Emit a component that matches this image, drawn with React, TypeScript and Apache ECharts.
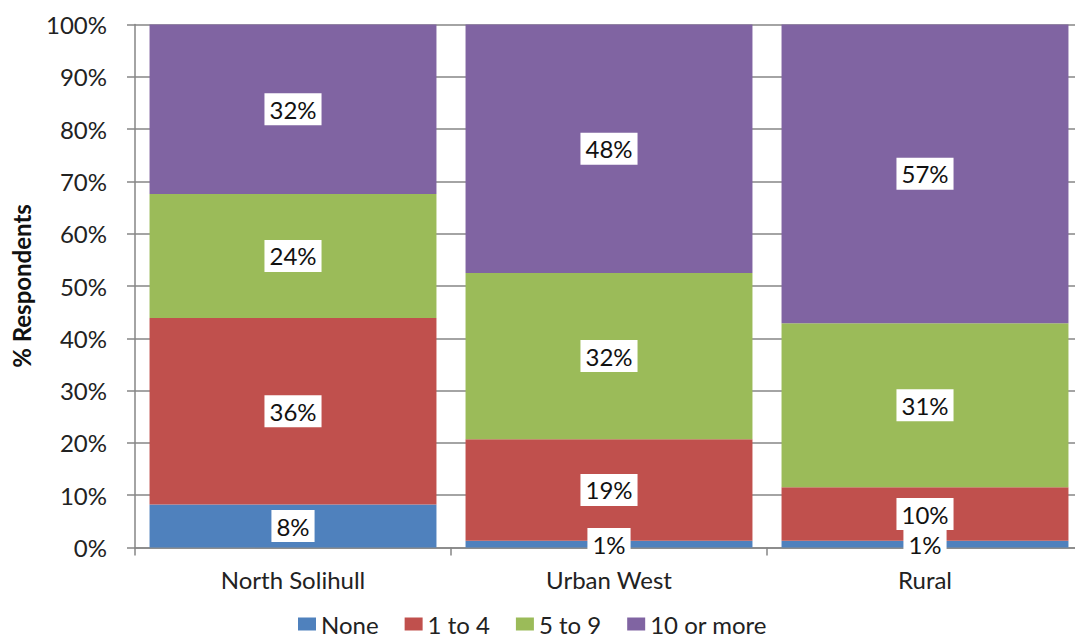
import React, { useEffect, useRef } from "react";
import * as echarts from "echarts";

const categories = ["North Solihull", "Urban West", "Rural"];
const seriesNames = ["None", "1 to 4", "5 to 9", "10 or more"];
const noneValues = [8.2, 1.3, 1.3];
const oneToFourValues = [35.7, 19.4, 10.2];
const fiveToNineValues = [23.7, 31.8, 31.4];
const tenOrMoreValues = [32.4, 47.5, 57.1];
const yTicks = [0, 10, 20, 30, 40, 50, 60, 70, 80, 90, 100];
const colors = ["#4F81BD", "#C0504D", "#9BBB59", "#8064A2"];

const FONT = "Lato, 'Open Sans', sans-serif";

export default function App() {
  const ref = useRef<HTMLDivElement>(null);
  useEffect(() => {
    if (!ref.current) return;
    const chart = echarts.init(ref.current, undefined, { renderer: "svg" });
    const dataSets = [noneValues, oneToFourValues, fiveToNineValues, tenOrMoreValues];
    chart.setOption({
      animation: false,
      textStyle: { fontFamily: FONT },
      grid: {
        left: 135,
        top: 24.5,
        width: 948,
        bottom: 93.5,
        containLabel: false,
        outerBoundsMode: "none",
      },
      legend: {
        data: seriesNames,
        top: 609,
        left: 296,
        padding: 2,
        itemWidth: 18,
        itemHeight: 13,
        itemGap: 26,
        icon: "rect",
        textStyle: { fontSize: 24, lineHeight: 26, color: "#222", fontFamily: FONT },
      },
      xAxis: {
        type: "category",
        data: categories,
        axisLine: { lineStyle: { color: "#868686", width: 1.5 } },
        axisTick: { show: true, length: 8, lineStyle: { color: "#868686", width: 1.5 } },
        axisLabel: { fontSize: 24, color: "#222", margin: 20, fontFamily: FONT },
      },
      yAxis: {
        type: "value",
        min: 0,
        max: 100,
        interval: 10,
        name: "% Respondents",
        nameLocation: "middle",
        nameGap: 102,
        nameTextStyle: { fontSize: 24, fontWeight: "bold", color: "#111", fontFamily: FONT },
        axisLine: { show: true, lineStyle: { color: "#868686", width: 1.5 } },
        axisTick: { show: true, length: 8, inside: false, lineStyle: { color: "#868686", width: 1.5 } },
        splitLine: { show: true, lineStyle: { color: "#868686", width: 1.5 } },
        axisLabel: {
          fontSize: 24,
          color: "#222",
          margin: 28,
          fontFamily: FONT,
          formatter: (v: number) => (yTicks.includes(v) ? v + "%" : ""),
        },
      },
      series: seriesNames.map((name, i) => ({
        name,
        type: "bar",
        stack: "total",
        barCategoryGap: "9.2%",
        itemStyle: { color: colors[i] },
        data: dataSets[i],
        label: {
          show: true,
          position: "inside",
          formatter: (p: any) => Math.round(p.value) + "%",
          fontSize: 24,
          lineHeight: 25,
          color: "#111",
          fontFamily: FONT,
          backgroundColor: "#fff",
          padding: [4, 5, 3, 5],
        },
      })),
    });
    return () => chart.dispose();
  }, []);
  return <div ref={ref} style={{ width: 1075, height: 641, position: "absolute", left: 0, top: 0 }} />;
}
